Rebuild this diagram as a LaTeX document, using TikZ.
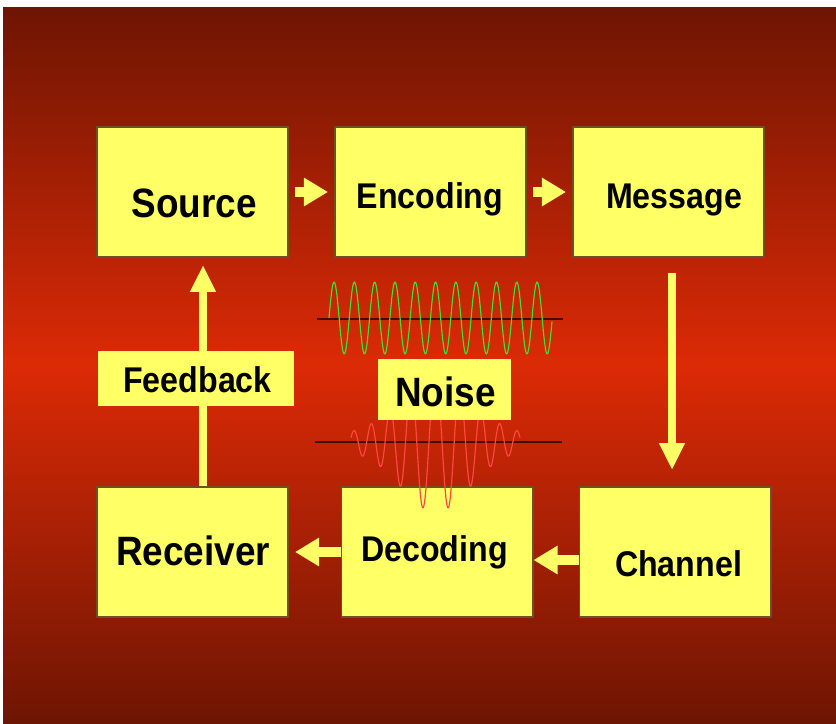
\documentclass[tikz,border=0pt]{standalone}
\usepackage{fontspec}
\setmainfont{Liberation Sans}
\newfontfamily\tallfont[FakeStretch=0.9]{Liberation Sans}
\usetikzlibrary{arrows.meta,calc}
\definecolor{bgdark}{RGB}{109,21,3}
\definecolor{bgbright}{RGB}{220,42,6}
\definecolor{boxfill}{RGB}{255,255,102}
\definecolor{boxline}{RGB}{110,80,40}
\definecolor{wavegreen}{RGB}{60,225,50}
\definecolor{wavered}{RGB}{255,70,70}
\definecolor{axisline}{RGB}{70,10,0}
\tikzset{
  box/.style={draw=boxline, line width=1.7pt, fill=boxfill,
    minimum width=5.73cm, minimum height=3.9cm, inner sep=0pt},
  bigword/.style={font=\tallfont\bfseries\fontsize{35}{40}\selectfont,
    anchor=base, inner sep=0pt},
  word/.style={font=\tallfont\bfseries\fontsize{30.5}{35}\selectfont,
    anchor=base, inner sep=0pt},
  tag/.style={fill=boxfill, inner sep=0pt},
  hflow/.style={draw=boxfill, line width=8.5pt,
    -{Triangle[length=20.5pt,width=23pt]}},
  vflow/.style={draw=boxfill, line width=6.8pt,
    -{Triangle[length=23pt,width=20.5pt]}},
}
\begin{document}
\begin{tikzpicture}[x=0.03cm,y=-0.03cm,line join=round]
  \useasboundingbox (0,0) rectangle (836,723);
  % backdrop: dark at top and bottom, bright red in the middle
  \shade[top color=bgdark, bottom color=bgdark, middle color=bgbright]
    (3,7) rectangle (836,723);
  % the six stages
  \foreach \nm/\cx/\cy in {src/192.5/192, enc/430.5/192, msg/668.5/192,
                           rec/192.5/552, dec/437/551.5, chan/675/552}
    \node[box] (\nm) at (\cx,\cy) {};
  \node[bigword] (srcT)  at (194,217)   {Source};
  \node[word]    (encT)  at (430,208)   {Encoding};
  \node[word]    (msgT)  at (674,208)   {Message};
  \node[word]    (chanT) at (678.5,576) {Channel};
  \node[word]    (decT)  at (434.5,561) {Decoding};
  \node[bigword] (recT)  at (193,565)   {Receiver};
  % flow round the loop
  \draw[hflow] ($(src.east)+(6,0)$) -- ($(enc.west)+(-6,0)$);
  \draw[hflow] ($(enc.east)+(6,0)$) -- ($(msg.west)+(-6,0)$);
  \draw[vflow] ($(msg.south)+(3.5,15)$) -- ($(chan.north)+(-3,-16)$);
  \draw[hflow] ($(chan.west)+(0,8)$) -- ($(dec.east)+(0,8.5)$);
  \draw[hflow] ($(dec.west)+(0,0.5)$) -- ($(rec.east)+(6,0)$);
  \draw[vflow] ($(rec.north)+(10.5,0)$) -- ($(src.south)+(10.5,7)$);
  % clean signal above the noise tag
  \draw[axisline, line width=1.5pt] (317,319) -- (563,319);
  \draw[wavegreen, line width=1pt] plot[domain=329:552, samples=300]
    (\x, {318-36*sin((\x-329)/20.3*360)});
  % disturbed signal below it
  \draw[axisline, line width=1.5pt] (315,442) -- (562,442);
  \draw[wavered, line width=1pt] plot[domain=-84.5:84.5, samples=400]
    ({435.5+\x}, {442-(8+62*exp(-(\x/48)*(\x/48)))*cos(deg(0.235*abs(\x)+0.0009*\x*\x))});
  % tags
  \node[tag, minimum width=5.88cm, minimum height=1.65cm] (fbk) at (196,378.5) {};
  \node[word] (fbkT) at (197.5,392) {Feedback};
  \node[tag, minimum width=3.99cm, minimum height=1.83cm] (noise) at (444.5,389.5) {};
  \node[bigword] (noiseT) at (445.5,406) {Noise};
\end{tikzpicture}
\end{document}
